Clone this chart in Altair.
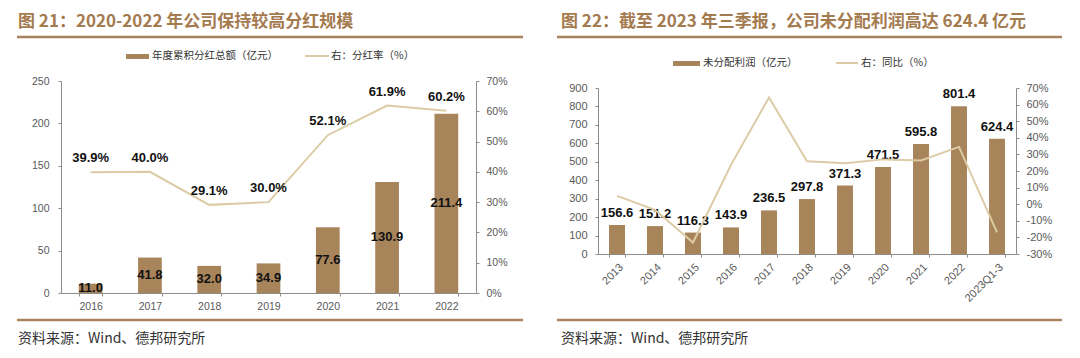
import altair as alt
import pandas as pd

# ---------------- data ----------------
years_left = ["2016", "2017", "2018", "2019", "2020", "2021", "2022"]
dividend_total = [11.0, 41.8, 32.0, 34.9, 77.6, 130.9, 211.4]
payout_ratio = [39.9, 40.0, 29.1, 30.0, 52.1, 61.9, 60.2]

years_right = ["2013", "2014", "2015", "2016", "2017", "2018", "2019",
               "2020", "2021", "2022", "2023Q1-3"]
undistributed = [156.6, 151.2, 116.3, 143.9, 236.5, 297.8, 371.3,
                 471.5, 595.8, 801.4, 624.4]
yoy = [5.0, -3.4, -23.1, 23.7, 64.3, 25.9, 24.7, 27.0, 26.4, 34.5, -17.0]

left_ticks = [0, 50, 100, 150, 200, 250]
left_pct_ticks = [0, 10, 20, 30, 40, 50, 60, 70]
right_ticks = [0, 100, 200, 300, 400, 500, 600, 700, 800, 900]
right_pct_ticks = [-30, -20, -10, 0, 10, 20, 30, 40, 50, 60, 70]

title_left = "图 21：2020-2022 年公司保持较高分红规模"
title_right = "图 22：截至 2023 年三季报，公司未分配利润高达 624.4 亿元"
legend_left = ["年度累积分红总额（亿元）", "右：分红率（%）"]
legend_right = ["未分配利润（亿元）", "右：同比（%）"]
source_text = "资料来源：Wind、德邦研究所"

# ---------------- style ----------------
BAR = "#A8845B"
LINE = "#DCCBA6"
TITLE_C = "#A47A4F"
RULE_C = "#A8835F"
CJK = "Noto Sans CJK SC"
NUM = "Liberation Sans"
AX = "#8C8C8C"
LAB = "#595959"


def one():
    return pd.DataFrame({"k": [0]})


def deco_text(txt, x, y, size, color, weight="normal", font=CJK):
    return alt.Chart(one()).mark_text(
        align="left", baseline="middle", fontSize=size, color=color,
        fontWeight=weight, font=font
    ).encode(x=alt.value(x), y=alt.value(y), text=alt.value(txt))


def deco_rule(x1, x2, y, color, width):
    return alt.Chart(one()).mark_rule(color=color, strokeWidth=width).encode(
        x=alt.value(x1), x2=alt.value(x2), y=alt.value(y))


def deco_rect(x1, x2, y1, y2, color):
    return alt.Chart(one()).mark_rect(color=color).encode(
        x=alt.value(x1), x2=alt.value(x2), y=alt.value(y1), y2=alt.value(y2))


# ---------------- left panel ----------------
W1, H1 = 415, 212
df1 = pd.DataFrame({"cat": years_left, "v": dividend_total, "p": payout_ratio})
df1["pl"] = [f"{p:.1f}%" for p in payout_ratio]

x1 = alt.X("cat:N", sort=years_left,
           scale=alt.Scale(paddingInner=0.6, paddingOuter=0.3),
           axis=alt.Axis(title=None, labelAngle=0, tickBand="extent",
                         labelPadding=5, tickSize=3))
base1 = alt.Chart(df1).encode(x=x1)
ax_left1 = alt.Axis(title=None, values=left_ticks, orient="left",
                    labelPadding=9, tickSize=3)
sc_left1 = alt.Scale(domain=[0, 250], nice=False)
bars1 = base1.mark_bar(color=BAR).encode(y=alt.Y("v:Q", scale=sc_left1, axis=ax_left1))
barlab1 = base1.transform_calculate(mid="datum.v / 2").mark_text(
    font=NUM, fontSize=13, fontWeight="bold", color="#111", baseline="middle"
).encode(y=alt.Y("mid:Q", scale=sc_left1, axis=ax_left1),
         text=alt.Text("v:Q", format=".1f"))
ax_right1 = alt.Axis(title=None, values=left_pct_ticks, orient="right",
                     labelExpr="datum.value + '%'", labelPadding=7, tickSize=3)
sc_right1 = alt.Scale(domain=[0, 70], nice=False)
line1 = base1.mark_line(color=LINE, strokeWidth=2).encode(
    y=alt.Y("p:Q", scale=sc_right1, axis=ax_right1))
linelab1 = base1.mark_text(
    font=NUM, fontSize=13, fontWeight="bold", color="#111", baseline="middle", dy=-14
).encode(y=alt.Y("p:Q", scale=sc_right1, axis=ax_right1), text="pl:N")

decos1 = [
    deco_text(title_left, -43, -59, 17, TITLE_C, "bold"),
    deco_rule(-44, 462, -44, RULE_C, 2.5),
    deco_rect(65, 88, -27, -22, BAR),
    deco_text(legend_left[0], 91, -25, 10.5, "#333"),
    deco_rule(244, 268, -25, LINE, 2),
    deco_text(legend_left[1], 270, -25, 10.5, "#333"),
    deco_rule(-44, 462, 239, RULE_C, 2.5),
    deco_text(source_text, -43, 258, 14, "#333"),
]

left = alt.layer(
    alt.layer(bars1, barlab1),
    alt.layer(line1, linelab1),
    *decos1
).resolve_scale(y="independent").properties(width=W1, height=H1)

# ---------------- right panel ----------------
# plot area shares the left panel's top; data range starts 7px lower
W2, H2 = 418, 173
TOP2 = 7
df2 = pd.DataFrame({"cat": years_right, "v": undistributed, "p": yoy})

x2 = alt.X("cat:N", sort=years_right,
           scale=alt.Scale(paddingInner=0.58, paddingOuter=0.29),
           axis=alt.Axis(title=None, labelAngle=-45, tickBand="extent",
                         labelPadding=4, tickSize=3, labelFontSize=11))
base2 = alt.Chart(df2).encode(x=x2)
ax_left2 = alt.Axis(title=None, values=right_ticks, orient="left",
                    labelPadding=8, tickSize=3, labelFontSize=11)
sc_left2 = alt.Scale(domain=[0, 900], nice=False, range=[H2, TOP2])
bars2 = base2.mark_bar(color=BAR).encode(y=alt.Y("v:Q", scale=sc_left2, axis=ax_left2))
barlab2 = base2.mark_text(
    font=NUM, fontSize=13, fontWeight="bold", color="#111", baseline="middle", dy=-12
).encode(y=alt.Y("v:Q", scale=sc_left2, axis=ax_left2),
         text=alt.Text("v:Q", format=".1f"))
ax_right2 = alt.Axis(title=None, values=right_pct_ticks, orient="right",
                     labelExpr="datum.value + '%'", labelPadding=7, tickSize=3,
                     labelFontSize=11)
sc_right2 = alt.Scale(domain=[-30, 70], nice=False, range=[H2, TOP2])
line2 = base2.mark_line(color=LINE, strokeWidth=2).encode(
    y=alt.Y("p:Q", scale=sc_right2, axis=ax_right2))

decos2 = [
    deco_text(title_right, -37, -59, 17, TITLE_C, "bold"),
    deco_rule(-41, 464, -44, RULE_C, 2.5),
    deco_rect(75, 102, -20, -15, BAR),
    deco_text(legend_right[0], 105, -18, 10.5, "#333"),
    deco_rule(238, 260, -18, LINE, 2),
    deco_text(legend_right[1], 263, -18, 10.5, "#333"),
    deco_rule(-41, 464, 239, RULE_C, 2.5),
    deco_text(source_text, -37, 258, 14, "#333"),
]

right = alt.layer(
    alt.layer(bars2, barlab2),
    line2,
    *decos2
).resolve_scale(y="independent").properties(width=W2, height=H2)

chart = alt.hconcat(left, right, spacing=30).properties(
    padding={"left": 7, "top": 5, "right": 0, "bottom": 0},
    background="white"
).configure_view(stroke=None).configure_axis(
    labelFont=NUM, labelFontSize=10.5, labelColor=LAB,
    domainColor=AX, tickColor=AX, grid=False
)

chart.save("out.html", embed_options={"renderer": "svg", "actions": False})
